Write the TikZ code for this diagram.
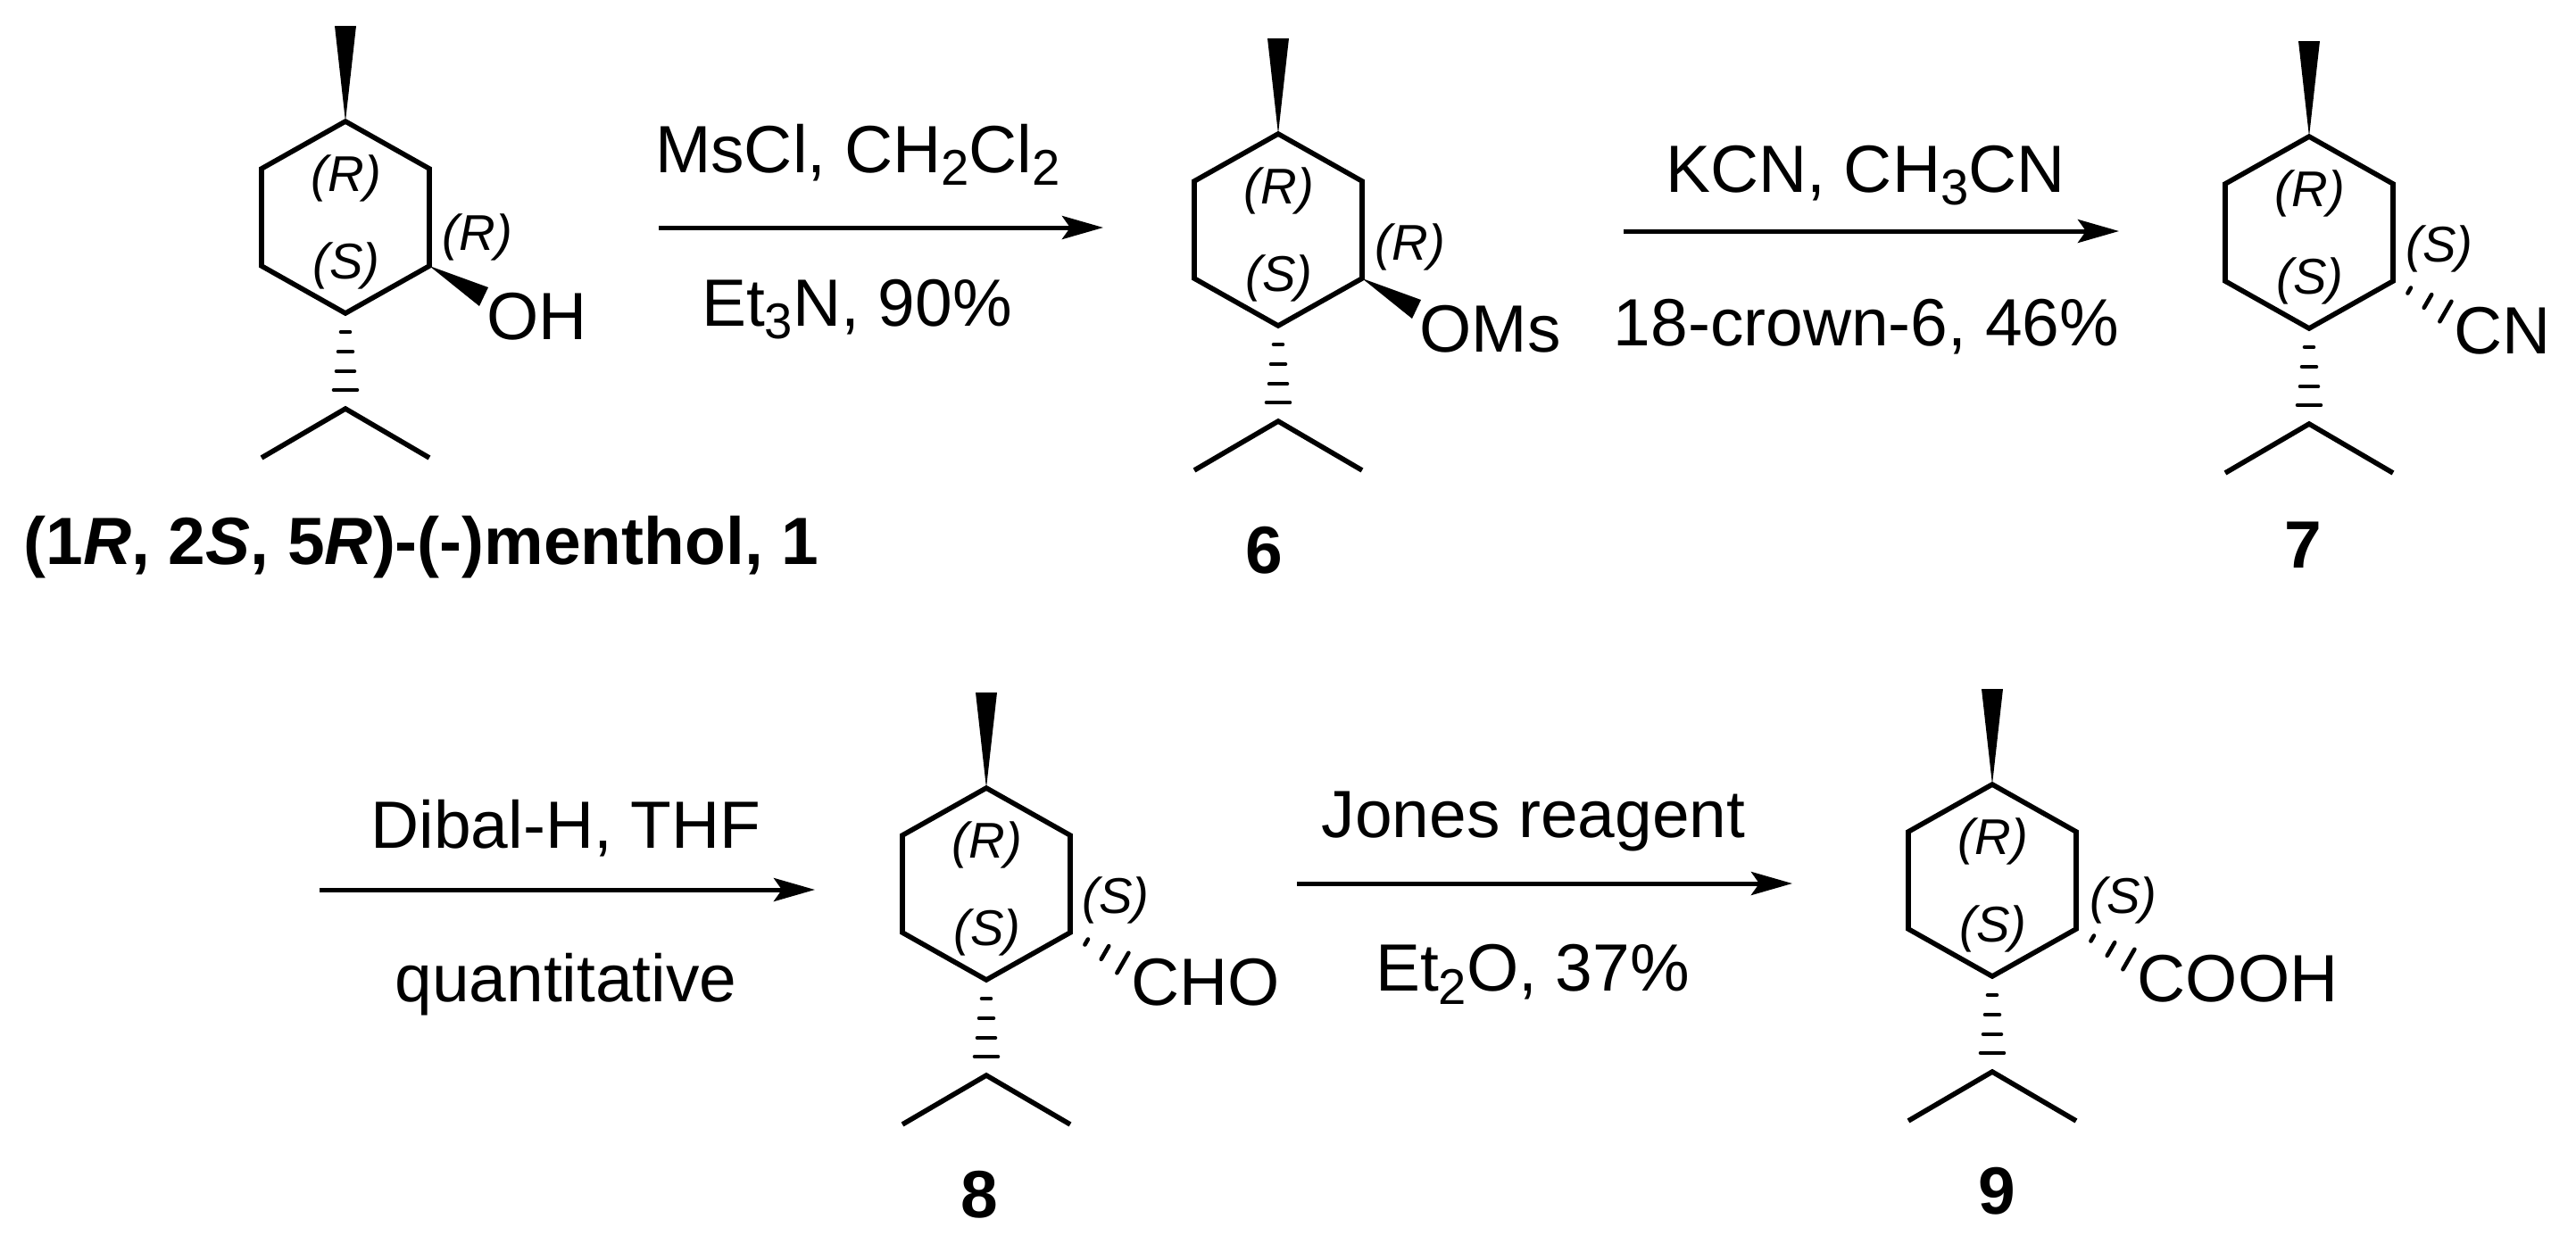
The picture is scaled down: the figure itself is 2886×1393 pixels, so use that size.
\documentclass[tikz,border=0pt]{standalone}
\usepackage{fontspec}
\setmainfont{Liberation Sans}
\usetikzlibrary{arrows.meta, positioning, calc}

\tikzset{
  bond/.style={line width=0.056cm, line join=miter},
  hashbond/.style={line width=0.046cm, line cap=round},
  rxnarrow/.style={line width=0.05cm, -{Stealth[length=0.46cm, width=0.26cm, inset=0.09cm]}},
  reagent/.style={anchor=base, inner sep=0pt, font=\fontsize{21.3}{25}\selectfont},
  atomlabel/.style={anchor=base west, inner sep=0pt, font=\fontsize{21.3}{25}\selectfont},
  cpdlabel/.style={anchor=base, inner sep=0pt, font=\fontsize{21.3}{25}\selectfont\bfseries},
  stereolabel/.style={inner sep=0pt, font=\fontsize{16}{18}\selectfont\itshape},
}

\newcommand{\chemsub}[1]{\raisebox{-0.2em}{\fontsize{16}{18}\selectfont #1}}

% ring, methyl wedge and isopropyl; #1 name, #2 x, #3 y
\newcommand{\ringmol}[3]{
  \begin{scope}[shift={(#2,#3)}, name prefix=#1-]
    \coordinate (top) at (0, 0);
    \coordinate (c1) at (94, 53);
    \coordinate (c2) at (94, 162);
    \coordinate (c3) at (0, 215);
    \coordinate (c4) at (-94, 162);
    \coordinate (c5) at (-94, 53);
    \coordinate (ipr) at (0, 322);
    \coordinate (me1) at (-94, 377);
    \coordinate (me2) at (94, 377);
    \coordinate (mel) at (-12, -107);
    \coordinate (mer) at (12, -107);
    \draw[bond] (top) -- (c1) -- (c2) -- (c3) -- (c4) -- (c5) -- cycle;
    \draw[bond] (me1) -- (ipr) -- (me2);
    \fill (top) -- (mel) -- (mer) -- cycle;
    \foreach \yy/\hw in {236/5, 258/8, 280/10, 301/13}
      \draw[hashbond] (-\hw, \yy) -- (\hw, \yy);
    \node[stereolabel] (sr) at (1, 64) {(R)};
    \node[stereolabel] (ss) at (1, 162) {(S)};
  \end{scope}
}

% wedge to the side group; #1 name, #2 x, #3 y, #4 text
\newcommand{\wedgeside}[4]{
  \begin{scope}[shift={(#2,#3)}, name prefix=#1-]
    \coordinate (wa) at (160, 186);
    \coordinate (wb) at (150, 207);
    \fill (c2) -- (wa) -- (wb) -- cycle;
    \node[atomlabel] (sub) at (158, 244) {#4};
  \end{scope}
}

% hashed bond to the side group; #1 name, #2 x, #3 y, #4 text
\newcommand{\hashside}[4]{
  \begin{scope}[shift={(#2,#3)}, name prefix=#1-]
    \foreach \dd/\hw in {21/3.5, 45/8.5, 68/13}
      \draw[hashbond, shift={(94, 162)}, rotate=-30] (\dd, -\hw) -- (\dd, \hw);
    \node[atomlabel] (sub) at (162, 243) {#4};
  \end{scope}
}

\begin{document}
\begin{tikzpicture}[x=0.01cm, y=-0.01cm]
  \useasboundingbox (0, 0) rectangle (2886, 1393);

  % menthol
  \ringmol{m1}{387}{136}
  \wedgeside{m1}{387}{136}{OH}
  \node[stereolabel] (m1-sc) at (535, 266) {(R)};
  \node[cpdlabel] (m1-name) at (472, 632) {(1\textit{R}, 2\textit{S}, 5\textit{R})-(-)menthol, 1};

  % mesylate
  \ringmol{m6}{1432}{150}
  \wedgeside{m6}{1432}{150}{OMs}
  \node[stereolabel] (m6-sc) at (1580, 277) {(R)};
  \node[cpdlabel] (m6-name) at (1416, 642) {6};

  % nitrile
  \ringmol{m7}{2587}{153}
  \hashside{m7}{2587}{153}{CN}
  \node[stereolabel] (m7-sc) at (2733, 279) {(S)};
  \node[cpdlabel] (m7-name) at (2580, 636) {7};

  % aldehyde
  \ringmol{m8}{1105}{883}
  \hashside{m8}{1105}{883}{CHO}
  \node[stereolabel] (m8-sc) at (1250, 1009) {(S)};
  \node[cpdlabel] (m8-name) at (1097, 1364) {8};

  % acid
  \ringmol{m9}{2232}{879}
  \hashside{m9}{2232}{879}{COOH}
  \node[stereolabel] (m9-sc) at (2379, 1009) {(S)};
  \node[cpdlabel] (m9-name) at (2237, 1360) {9};

  % arrows
  \coordinate (a1s) at (738, 255);
  \coordinate (a1e) at (1236, 255);
  \coordinate (a2s) at (1819, 259);
  \coordinate (a2e) at (2374, 259);
  \coordinate (a3s) at (358, 997);
  \coordinate (a3e) at (913, 997);
  \coordinate (a4s) at (1453, 990);
  \coordinate (a4e) at (2008, 990);
  \draw[rxnarrow] (a1s) -- (a1e);
  \draw[rxnarrow] (a2s) -- (a2e);
  \draw[rxnarrow] (a3s) -- (a3e);
  \draw[rxnarrow] (a4s) -- (a4e);

  \node[reagent] (r1a) at (961, 193) {MsCl, CH\chemsub{2}Cl\chemsub{2}};
  \node[reagent] (r1b) at (960, 365) {Et\chemsub{3}N, 90\%};
  \node[reagent] (r2a) at (2090, 215) {KCN, CH\chemsub{3}CN};
  \node[reagent] (r2b) at (2091, 387) {18-crown-6, 46\%};
  \node[reagent] (r3a) at (634, 950) {Dibal-H, THF};
  \node[reagent] (r3b) at (634, 1122) {quantitative};
  \node[reagent] (r4a) at (1718, 938) {Jones reagent};
  \node[reagent] (r4b) at (1717, 1110) {Et\chemsub{2}O, 37\%};
\end{tikzpicture}
\end{document}
